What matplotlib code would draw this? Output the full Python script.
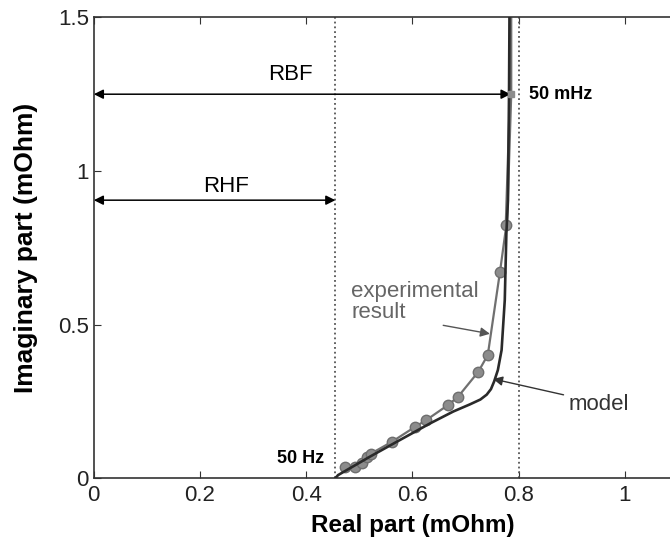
import matplotlib.pyplot as plt

plt.rcParams['font.family'] = ['Liberation Sans', 'DejaVu Sans']

# model curve (Nyquist plot)
model_re = [0.455, 0.46, 0.52, 0.57, 0.633, 0.677, 0.708, 0.728, 0.740, 0.748,
            0.754, 0.761, 0.768, 0.774, 0.777, 0.780, 0.782, 0.783]
model_im = [0.0, 0.010, 0.070, 0.118, 0.178, 0.217, 0.240, 0.256, 0.272, 0.290,
            0.315, 0.352, 0.417, 0.58, 0.797, 0.905, 1.25, 1.55]

# experimental result
exp_re = [0.473, 0.492, 0.505, 0.515, 0.522, 0.561, 0.605, 0.626, 0.667, 0.686,
          0.724, 0.742, 0.765, 0.777]
exp_im = [0.037, 0.037, 0.050, 0.068, 0.080, 0.118, 0.167, 0.189, 0.238, 0.265,
          0.346, 0.401, 0.672, 0.824]
exp_low_re = [0.777, 0.785, 0.785]
exp_low_im = [0.824, 1.25, 1.55]

r_hf = 0.455
r_bf = 0.785

fig = plt.figure(figsize=(6.7, 5.44), dpi=100)
ax = fig.add_axes([0.140, 0.121, 0.951, 0.847])

ax.plot(exp_low_re, exp_low_im, color='#707070', lw=2.5, zorder=2)
ax.plot(exp_re, exp_im, color='#707070', lw=1.6, marker='o', markersize=7.5,
        markerfacecolor='#8c8c8c', markeredgecolor='#6e6e6e', zorder=3)
ax.plot(model_re, model_im, color='#2a2a2a', lw=1.9, zorder=4)
ax.plot([r_bf], [1.25], marker='s', markersize=5, color='#8c8c8c', zorder=5)

ax.axvline(r_hf, color='#555555', lw=1.3, ls=':')
ax.axvline(0.8, color='#555555', lw=1.3, ls=':')

arrow = dict(arrowstyle='<|-|>', color='black', lw=1.1,
             mutation_scale=14, shrinkA=0, shrinkB=0)
ax.annotate('', xy=(0.0, 1.25), xytext=(0.785, 1.25), arrowprops=arrow)
ax.annotate('', xy=(0.0, 0.905), xytext=(r_hf, 0.905), arrowprops=arrow)
ax.text(0.37, 1.313, 'RBF', fontsize=16, ha='center', va='center')
ax.text(0.25, 0.948, 'RHF', fontsize=16, ha='center', va='center')

ax.text(0.82, 1.25, '50 mHz', fontsize=13, fontweight='bold', va='center')
ax.text(0.345, 0.065, '50 Hz', fontsize=13, fontweight='bold', va='center')

ax.annotate('experimental\nresult', xy=(0.746, 0.47), xytext=(0.485, 0.575),
            fontsize=16, color='#666666', va='center', ha='left',
            linespacing=1.0,
            arrowprops=dict(arrowstyle='-|>', color='#555555', lw=1.0,
                            mutation_scale=14, shrinkA=0, shrinkB=0,
                            relpos=(0.6, 0.0)))
ax.annotate('model', xy=(0.752, 0.323), xytext=(0.895, 0.24),
            fontsize=16, color='#333333', va='center', ha='left',
            arrowprops=dict(arrowstyle='-|>', color='#333333', lw=1.0,
                            mutation_scale=14, shrinkA=2, shrinkB=0,
                            relpos=(0.0, 0.9)))

ax.set_xlim(0, 1.2)
ax.set_ylim(0, 1.5)
ax.set_xticks([0, 0.2, 0.4, 0.6, 0.8, 1, 1.2])
ax.set_xticklabels(['0', '0.2', '0.4', '0.6', '0.8', '1', ''])
ax.set_yticks([0, 0.5, 1, 1.5])
ax.set_yticklabels(['0', '0.5', '1', '1.5'])
ax.tick_params(direction='in', top=True, right=True, labelsize=16, length=5,
               color='#333333', labelcolor='#222222')
ax.tick_params(axis='x', pad=5)
ax.set_xlabel('Real part (mOhm)', fontsize=17.5, fontweight='bold', labelpad=6)
ax.set_ylabel('Imaginary part (mOhm)', fontsize=19, fontweight='bold', labelpad=14)
for s in ax.spines.values():
    s.set_linewidth(1.2)
    s.set_color('#333333')

fig.savefig('out.png', dpi=100)
